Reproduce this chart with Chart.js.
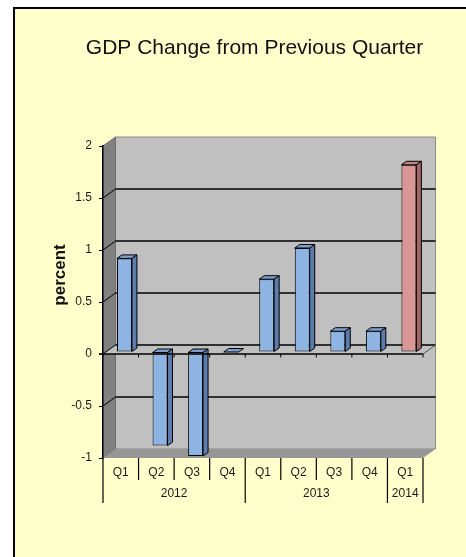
<!DOCTYPE html>
<html><head><meta charset="utf-8">
<script src="https://cdn.jsdelivr.net/npm/chart.js@4.4.1/dist/chart.umd.min.js"></script>
<style>html,body{margin:0;padding:0;background:#fff;overflow:hidden}canvas{display:block}</style>
</head><body>
<canvas id="c" width="466" height="557" style="width:466px;height:557px"></canvas>
<script>
// ---- data ----
const chartTitle = 'GDP Change from Previous Quarter';
const axisTitle = 'percent';
const quarterLabels = ['Q1','Q2','Q3','Q4','Q1','Q2','Q3','Q4','Q1'];
const yearLabels = ['2012','2013','2014'];
const yearQuarterCounts = [4, 4, 1];
const gdpChange = [0.9, -0.9, -1.0, 0.0, 0.7, 1.0, 0.2, 0.2, 1.8];
const yTickValues = [-1, -0.5, 0, 0.5, 1, 1.5, 2];

// ---- styles ----
const FONT = '"Liberation Sans", Arial, Helvetica, sans-serif';
const WALL = {dx: 12.5, dy: -9};
const BAR_SHIFT = {dx: 3.7, dy: -2};
const BAR_DEPTH = {dx: 5, dy: -3.5};
const BLUE = {front: '#8DB4E2', top: '#7C9FD0', side: '#5B7CAD'};
const RED = {front: '#D99694', top: '#C58382', side: '#A26666'};
const barStyles = gdpChange.map((v, i) => i === gdpChange.length - 1 ? RED : BLUE);

function poly(ctx, pts, fill, stroke, lw) {
  ctx.beginPath();
  ctx.moveTo(pts[0][0], pts[0][1]);
  for (let i = 1; i < pts.length; i++) ctx.lineTo(pts[i][0], pts[i][1]);
  ctx.closePath();
  if (fill) { ctx.fillStyle = fill; ctx.fill(); }
  if (stroke) { ctx.strokeStyle = stroke; ctx.lineWidth = lw || 1; ctx.stroke(); }
}
function line(ctx, x1, y1, x2, y2, color, lw) {
  ctx.beginPath(); ctx.moveTo(x1, y1); ctx.lineTo(x2, y2);
  ctx.strokeStyle = color; ctx.lineWidth = lw; ctx.stroke();
}

const scene = {
  id: 'scene',
  beforeDraw(chart) {
    const {ctx, chartArea: a, scales: {y}} = chart;
    const W = chart.width, H = chart.height;
    ctx.save();
    ctx.fillStyle = '#fff'; ctx.fillRect(0, 0, W, H);
    ctx.fillStyle = '#FFFFCC'; ctx.fillRect(13, 7, W - 13, H - 7);
    ctx.fillStyle = '#000';
    ctx.fillRect(13, 7, 2, H - 7);
    ctx.fillRect(13, 7, W - 13, 2);

    const L = a.left, R = a.right, T = a.top, B = a.bottom, dx = WALL.dx, dy = WALL.dy;
    // back wall
    poly(ctx, [[L + dx, T + dy], [R + dx, T + dy], [R + dx, B + dy], [L + dx, B + dy]], '#C0C0C0', '#8A8A8A', 1);
    // side wall
    poly(ctx, [[L, T], [L + dx, T + dy], [L + dx, B + dy], [L, B]], '#808080', '#6E6E6E', 1);
    // floor
    poly(ctx, [[L, B], [L + dx, B + dy], [R + dx, B + dy], [R, B]], '#969696', null);
    // gridlines
    yTickValues.forEach(v => {
      if (v === y.min || v === y.max || v === 0) return;
      const py = y.getPixelForValue(v);
      line(ctx, L + dx, py + dy, R + dx, py + dy, '#000', 1.6);
      line(ctx, L, py, L + dx, py + dy, '#000', 1);
    });
    // zero plane
    const z = y.getPixelForValue(0);
    poly(ctx, [[L, z], [L + dx, z + dy], [R + dx, z + dy], [R, z]], '#C0C0C0', null);
    line(ctx, L + dx, z + dy, R + dx, z + dy, '#000', 1.6);
    line(ctx, L, z, L + dx, z + dy, '#000', 1);
    line(ctx, R, z, R + dx, z + dy, '#555', 1);
    ctx.restore();
  },
  beforeDatasetsDraw(chart) {
    chart.ctx.save();
    chart.ctx.translate(BAR_SHIFT.dx, BAR_SHIFT.dy);
  },
  afterDatasetsDraw(chart) {
    const {ctx, chartArea: a, scales: {x, y}} = chart;
    ctx.restore();
    ctx.save();
    const meta = chart.getDatasetMeta(0);
    meta.data.forEach((el, i) => {
      const p = el.getProps(['x', 'y', 'base', 'width'], true);
      const st = barStyles[i];
      const l = p.x - p.width / 2 + BAR_SHIFT.dx, r = p.x + p.width / 2 + BAR_SHIFT.dx;
      const t = Math.min(p.y, p.base) + BAR_SHIFT.dy, b = Math.max(p.y, p.base) + BAR_SHIFT.dy;
      const ddx = BAR_DEPTH.dx, ddy = BAR_DEPTH.dy;
      poly(ctx, [[l, t], [l + ddx, t + ddy], [r + ddx, t + ddy], [r, t]], st.top, '#000', 1);
      if (b - t > 0.5) poly(ctx, [[r, t], [r + ddx, t + ddy], [r + ddx, b + ddy], [r, b]], st.side, '#000', 1);
    });
    // category axis at zero
    const z = y.getPixelForValue(0);
    line(ctx, a.left - 4, z, a.right, z, '#000', 1.5);
    const catW = x.getPixelForValue(1) - x.getPixelForValue(0);
    for (let i = 0; i <= quarterLabels.length; i++) {
      const bx = x.getPixelForValue(0) - catW / 2 + i * catW;
      line(ctx, bx, z, bx, z + 3.5, '#000', 1);
    }
    ctx.restore();
  },
  afterDraw(chart) {
    const {ctx, chartArea: a, scales: {x}} = chart;
    ctx.save();
    const catW = x.getPixelForValue(1) - x.getPixelForValue(0);
    const x0 = x.getPixelForValue(0) - catW / 2;
    const B = a.bottom;
    // separators
    const yearBounds = [0];
    yearQuarterCounts.forEach(c => yearBounds.push(yearBounds[yearBounds.length - 1] + c));
    for (let i = 0; i <= quarterLabels.length; i++) {
      const bx = x0 + i * catW;
      const long = yearBounds.includes(i);
      line(ctx, bx, B, bx, B + (long ? 45 : 22), '#000', 1.2);
    }
    ctx.fillStyle = '#1a1a1a';
    ctx.font = '12px ' + FONT;
    ctx.textAlign = 'center';
    ctx.textBaseline = 'middle';
    quarterLabels.forEach((q, i) => ctx.fillText(q, x.getPixelForValue(i), B + 14.5));
    yearLabels.forEach((yl, k) => {
      const s = yearBounds[k], e = yearBounds[k + 1] - 1;
      ctx.fillText(yl, (x.getPixelForValue(s) + x.getPixelForValue(e)) / 2, B + 35.5);
    });
    // chart title
    ctx.fillStyle = '#111';
    ctx.font = '21px ' + FONT;
    ctx.fillText(chartTitle, 254.5, 48);
    // axis title
    ctx.save();
    ctx.translate(60, 275);
    ctx.rotate(-Math.PI / 2);
    ctx.font = 'bold 17px ' + FONT;
    ctx.fillText(axisTitle, 0, 0);
    ctx.restore();
    ctx.restore();
  }
};

new Chart(document.getElementById('c'), {
  type: 'bar',
  data: {
    labels: quarterLabels,
    datasets: [{
      data: gdpChange,
      backgroundColor: barStyles.map(s => s.front),
      borderColor: '#000',
      borderWidth: 1,
      borderSkipped: false,
      barPercentage: 0.42,
      categoryPercentage: 1.0
    }]
  },
  options: {
    responsive: false,
    animation: false,
    devicePixelRatio: 1,
    layout: {padding: {top: 146, right: 43, bottom: 99, left: 0}},
    plugins: {legend: {display: false}, title: {display: false}, tooltip: {enabled: false}},
    scales: {
      x: {display: false, offset: true},
      y: {
        min: Math.min(...yTickValues),
        max: Math.max(...yTickValues),
        afterFit(s) { s.width = 103; },
        afterBuildTicks(s) { s.ticks = yTickValues.map(v => ({value: v})); },
        ticks: {callback: v => String(v), font: {family: FONT, size: 12}, color: '#1a1a1a', padding: 7},
        grid: {drawOnChartArea: false, drawTicks: true, tickLength: 4, color: '#000', lineWidth: 1},
        border: {display: true, color: '#000', width: 1.5}
      }
    }
  },
  plugins: [scene]
});
</script>
</body></html>
